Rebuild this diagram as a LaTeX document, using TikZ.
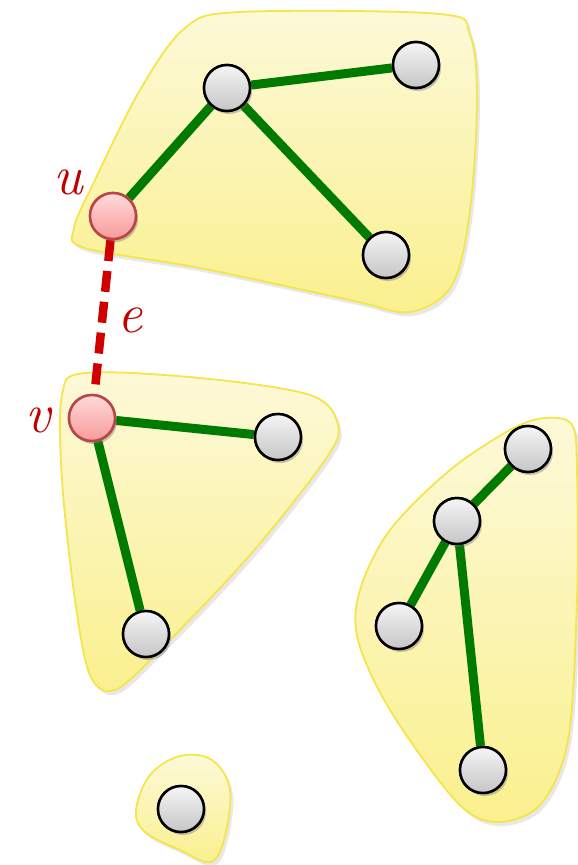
\documentclass[tikz,border=0pt]{standalone}
\usepackage{fontspec}
\usetikzlibrary{shadows,shadings}
\definecolor{blobfill1}{HTML}{FDF9D8}
\definecolor{blobfill2}{HTML}{FAF08E}
\definecolor{blobline}{HTML}{F3E54A}
\definecolor{edgegreen}{HTML}{007A00}
\definecolor{edgered}{HTML}{D00000}
\definecolor{labred}{HTML}{C00000}
\definecolor{pinktop}{HTML}{FFDADA}
\definecolor{pinkbot}{HTML}{F99A9A}
\definecolor{pinkline}{HTML}{B84646}
\tikzset{
  blob/.style={draw=blobline, line width=1.8pt, top color=blobfill1, bottom color=blobfill2,
    drop shadow={opacity=0.18, shadow xshift=3pt, shadow yshift=-4pt}},
  vert/.style={circle, draw=black, line width=2.5pt, minimum size=46pt, inner sep=0pt,
    top color=white!92!gray, bottom color=gray!45,
    drop shadow={opacity=0.25, shadow xshift=2pt, shadow yshift=-3pt}},
  pvert/.style={vert, draw=pinkline, top color=pinktop, bottom color=pinkbot},
  gedge/.style={draw=edgegreen, line width=9pt},
  redge/.style={draw=edgered, line width=8.5pt, dash pattern=on 21pt off 10pt},
  lab/.style={text=labred, font=\fontsize{56}{56}\selectfont\itshape, inner sep=0pt}
}
\begin{document}
\begin{tikzpicture}[x=1pt,y=-1pt]
\useasboundingbox (0,0) rectangle (578,865);
% blobs
\path[blob] plot[smooth cycle, tension=0.55] coordinates {(74,228) (95,180) (140,90) (185,28) (240,12) (440,14) (470,35) (477,100) (470,210) (452,285) (410,312) (350,300) (200,268) (85,248)};
\path[blob] plot[smooth cycle, tension=0.55] coordinates {(62,395) (85,373) (200,378) (310,395) (338,425) (325,460) (250,555) (160,650) (115,690) (90,675) (75,600) (62,480)};
\path[blob] plot[smooth cycle, tension=0.55] coordinates {(545,418) (572,425) (577,470) (577,600) (568,740) (540,805) (495,822) (455,800) (390,710) (358,640) (360,590) (390,530) (450,470) (510,430)};
\path[blob] plot[smooth cycle, tension=0.6] coordinates {(136,810) (150,775) (180,756) (212,760) (230,790) (224,840) (210,862) (180,850) (145,832)};
% nodes
\node[vert] (A) at (227,88) {};
\node[vert] (B) at (416,65) {};
\node[vert] (C) at (386,255) {};
\node[pvert] (u) at (113,216) {};
\node[pvert] (v) at (92,418) {};
\node[vert] (D) at (278,437) {};
\node[vert] (E) at (146,634) {};
\node[vert] (F) at (528,449) {};
\node[vert] (G) at (457,521) {};
\node[vert] (H) at (399,626) {};
\node[vert] (I) at (483,770) {};
\node[vert] (J) at (181,809) {};
% edges
\draw[gedge] (u) -- (A);
\draw[gedge] (A) -- (B);
\draw[gedge] (A) -- (C);
\draw[gedge] (v) -- (D);
\draw[gedge] (v) -- (E);
\draw[gedge] (F) -- (G);
\draw[gedge] (G) -- (H);
\draw[gedge] (G) -- (I);
\draw[redge] (u) -- (v);
% redraw nodes on top of connectors
\foreach \p in {(227,88),(416,65),(386,255),(278,437),(146,634),(528,449),(457,521),(399,626),(483,770),(181,809)}{
  \node[vert] at \p {};
}
\node[pvert] at (113,216) {};
\node[pvert] at (92,418) {};
% labels
\node[lab] (lu) at (68,182) {u};
\node[lab] (lv) at (38,420) {v};
\node[lab] (le) at (130,320) {e};
\end{tikzpicture}
\end{document}
